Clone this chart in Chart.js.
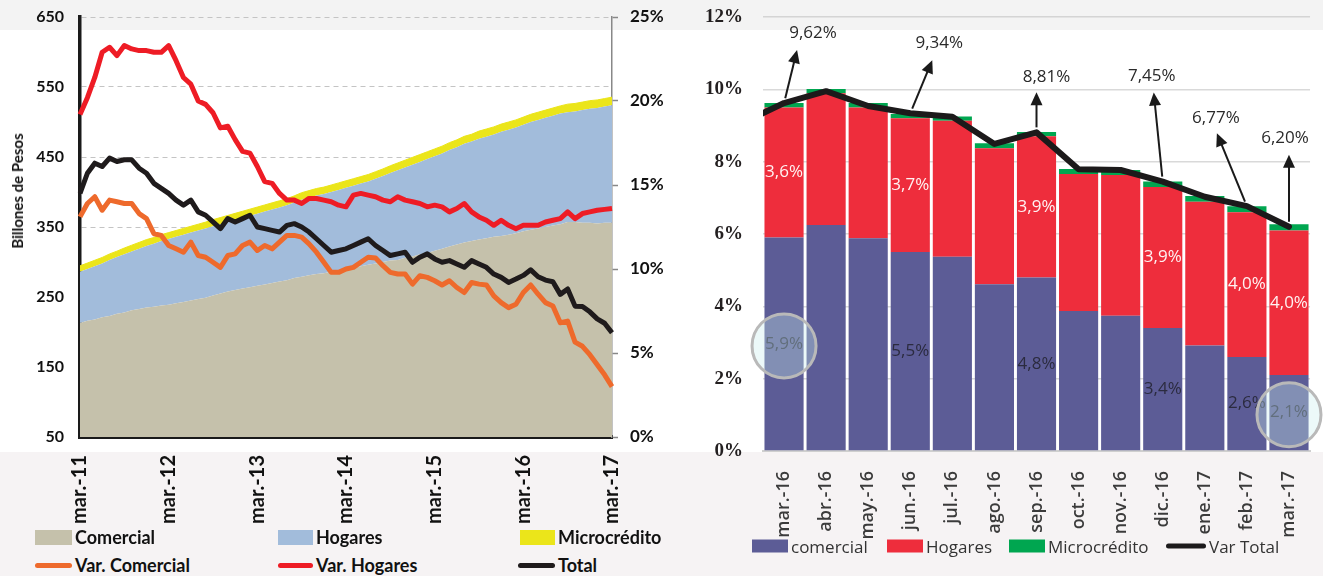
<!DOCTYPE html>
<html>
<head>
<meta charset="utf-8">
<script src="https://cdn.jsdelivr.net/npm/chart.js@4.4.1/dist/chart.umd.min.js"></script>
<style>
  body { margin: 0; width: 1323px; height: 576px; overflow: hidden; background: #fff; position: relative; font-family: Lato, sans-serif; }
  #topband { position: absolute; left: 0; top: 0; width: 1323px; height: 30px; background: #f3f3f3; }
  #botband { position: absolute; left: 0; top: 452px; width: 1323px; height: 124px; background: #f6f3f4; }
  #saldos { position: absolute; left: 0; top: 0; }
  #contrib { position: absolute; left: 690px; top: 0; }
  .ytitle { position: absolute; left: 17px; top: 191px; transform: translate(-50%, -50%) rotate(-90deg); font: bold 15px Lato; white-space: nowrap; color: #111; }
  .leg { position: absolute; display: flex; align-items: center; white-space: nowrap; transform: translateY(-50%); }
  .leg i { display: inline-block; margin-right: 3px; }
  .legL { font: bold 18px Lato; color: #111; }
  .legR { font: 17px "Open Sans"; color: #333; }
</style>
</head>
<body>
<div id="topband"></div>
<div id="botband"></div>
<canvas id="saldos" width="690" height="530"></canvas>
<canvas id="contrib" width="633" height="545"></canvas>
<div class="ytitle">Billones de Pesos</div>
<div id="legends"></div>
<script>
// --- saldos de cartera (billones) y variación anual (%), mar-11 a mar-17 ---
const monthNames = ['ene.', 'feb.', 'mar.', 'abr.', 'may.', 'jun.', 'jul.', 'ago.', 'sep.', 'oct.', 'nov.', 'dic.'];
const firstYear = 11;
const firstMonth = 2;
const nMonths = 73;

const comercial = [
  213, 216, 218, 221, 223, 226, 228, 231, 233, 235,
  236, 238, 239, 241, 243, 245, 247, 249, 252, 255,
  258, 260, 262, 264, 266, 268, 270, 272, 274, 277,
  279, 281, 283, 284, 286, 288, 290, 292, 294, 296,
  298, 300, 302, 303, 306, 308, 311, 313, 316, 319,
  322, 325, 328, 330, 332, 334, 336, 337, 339, 341,
  344, 346, 348, 350, 352, 354, 357, 357, 356, 356, 355, 356, 356
];
const hogares = [
  73, 74, 76, 77, 80, 81, 83, 84, 86, 88,
  90, 92, 94, 95, 96, 97, 98, 99, 99, 99,
  99, 100, 101, 102, 103, 104, 105, 106, 107, 108,
  110, 111, 112, 113, 114, 115, 116, 117, 118, 119,
  121, 123, 125, 128, 129, 131, 132, 134, 135, 136,
  138, 139, 141, 142, 144, 145, 146, 149, 150, 151,
  152, 154, 155, 156, 157, 158, 157, 158, 161, 163, 165, 166, 168
];
const microcredito = [
  8.5, 8.5, 8.5, 8.5, 8.5, 8.5, 9, 9, 9, 9,
  9, 9, 9, 9, 9, 9, 9, 9, 9.5, 9.5,
  9.5, 9.5, 9.5, 9.5, 9.5, 9.5, 9.5, 9.5, 9.5, 9.5,
  10, 10, 10, 10, 10, 10, 10, 10, 10, 10,
  10, 10, 10.5, 10.5, 10.5, 10.5, 10.5, 10.5, 10.5, 10.5,
  10.5, 10.5, 10.5, 10.5, 11, 11, 11, 11, 11, 11,
  11, 11, 11, 11, 11, 11, 11.5, 11.5, 11.5, 11.5, 11.5, 11.5, 11.5
];
const varComercial = [
  13.1, 13.9, 14.3, 13.5, 14.1, 14.0, 13.9, 13.9, 13.3, 13.0,
  12.1, 12.0, 11.4, 11.2, 11.0, 11.6, 10.8, 10.7, 10.4, 10.1,
  10.8, 10.9, 11.4, 11.6, 11.1, 11.4, 11.2, 11.6, 12.0, 12.0,
  11.9, 11.5, 11.0, 10.4, 9.8, 9.8, 10.0, 10.1, 10.4, 10.7,
  10.65, 10.2, 9.8, 9.7, 9.7, 9.1, 9.6, 9.5, 9.3, 9.05,
  9.3, 8.9, 8.6, 9.2, 9.1, 9.05, 8.4, 8.0, 7.7, 7.9,
  8.6, 9.05, 8.5, 8.0, 7.8, 6.8, 6.9, 5.65, 5.4, 4.9, 4.3, 3.7, 3.0
];
const varHogares = [
  19.2, 20.2, 21.4, 22.9, 23.2, 22.7, 23.3, 23.1, 23.0, 23.0,
  22.9, 22.9, 23.3, 22.4, 21.4, 21.0, 20.0, 19.8, 19.3, 18.4,
  18.5, 17.7, 17.0, 16.9, 16.1, 15.2, 15.1, 14.5, 14.1, 14.1,
  13.9, 14.2, 14.2, 14.1, 14.0, 13.8, 13.7, 14.4, 14.5, 14.4,
  14.3, 14.1, 14.0, 14.3, 14.1, 14.0, 13.9, 13.7, 13.8, 13.7,
  13.4, 13.6, 13.9, 13.4, 13.1, 12.9, 12.6, 12.9, 12.6, 12.4,
  12.6, 12.6, 12.6, 12.8, 12.9, 13.0, 13.4, 13.0, 13.3, 13.4, 13.5, 13.55, 13.6
];
const varTotal = [
  14.5, 15.7, 16.3, 16.1, 16.6, 16.4, 16.5, 16.5, 16.0, 15.7,
  15.1, 14.8, 14.5, 14.1, 13.8, 14.1, 13.4, 13.2, 12.8, 12.4,
  13.0, 12.8, 13.0, 13.2, 12.5, 12.4, 12.3, 12.2, 12.6, 12.7,
  12.5, 12.2, 11.8, 11.4, 11.0, 11.1, 11.2, 11.4, 11.6, 11.8,
  11.4, 11.1, 10.8, 10.9, 11.0, 10.4, 10.7, 10.9, 10.6, 10.4,
  10.5, 10.3, 10.1, 10.5, 10.3, 10.1, 9.7, 9.5, 9.2, 9.4,
  9.62, 9.95, 9.54, 9.34, 9.24, 8.49, 8.81, 7.79, 7.77, 7.45, 7.03, 6.77, 6.20
];

// --- contribución al crecimiento (pp), mar-16 a mar-17 ---
const meses = ['mar.-16', 'abr.-16', 'may.-16', 'jun.-16', 'jul.-16', 'ago.-16', 'sep.-16',
               'oct.-16', 'nov.-16', 'dic.-16', 'ene.-17', 'feb.-17', 'mar.-17'];
const contribComercial = [5.9, 6.25, 5.88, 5.5, 5.37, 4.61, 4.8, 3.87, 3.74, 3.4, 2.92, 2.6, 2.1];
const contribHogares = [3.6, 3.64, 3.62, 3.7, 3.76, 3.76, 3.9, 3.79, 3.89, 3.9, 3.97, 4.0, 4.0];
const contribMicro = [0.12, 0.12, 0.12, 0.12, 0.12, 0.14, 0.12, 0.14, 0.14, 0.15, 0.16, 0.17, 0.17];
const varTotalMes = [9.62, 9.95, 9.54, 9.34, 9.24, 8.49, 8.81, 7.79, 7.77, 7.45, 7.03, 6.77, 6.20];
const varTotalPrevio = 9.06; // feb-16, queda fuera del área
const conEtiqueta = [0, 3, 6, 9, 11, 12];
const conFlecha = [0, 3, 6, 9, 11, 12];
const resaltados = [0, 12];

const monthLabels = [];
for (let i = 0; i < nMonths; i++) {
  const m = (firstMonth + i) % 12;
  const y = firstYear + Math.floor((firstMonth + i) / 12);
  monthLabels.push(monthNames[m] + '-' + y);
}

const pct = (v, d) => v.toFixed(d).replace('.', ',') + '%';

// ancho fijo del eje y sin el relleno vertical que agrega Chart.js por las etiquetas
const fixedWidth = w => s => { s.width = w; s.paddingTop = 0; s.paddingBottom = 0; };

// ---------- panel izquierdo ----------
new Chart(document.getElementById('saldos'), {
  type: 'line',
  data: {
    labels: monthLabels,
    datasets: [
      { label: 'Comercial', data: comercial, yAxisID: 'y', stack: 'saldo', fill: 'origin',
        backgroundColor: '#c5c1ab', borderWidth: 0, pointRadius: 0, order: 10 },
      { label: 'Hogares', data: hogares, yAxisID: 'y', stack: 'saldo', fill: '-1',
        backgroundColor: '#a2bcdb', borderWidth: 0, pointRadius: 0, order: 10 },
      { label: 'Microcrédito', data: microcredito, yAxisID: 'y', stack: 'saldo', fill: '-1',
        backgroundColor: '#ebe51a', borderColor: '#ebe51a', borderWidth: 1, pointRadius: 0, order: 10 },
      { label: 'Var. Comercial', data: varComercial, yAxisID: 'y1', fill: false,
        borderColor: '#ee6a2c', borderWidth: 5, pointRadius: 0, borderJoinStyle: 'round', order: 3 },
      { label: 'Var. Hogares', data: varHogares, yAxisID: 'y1', fill: false,
        borderColor: '#ee1c25', borderWidth: 5, pointRadius: 0, borderJoinStyle: 'round', order: 2 },
      { label: 'Total', data: varTotal, yAxisID: 'y1', fill: false,
        borderColor: '#1f1b1c', borderWidth: 5, pointRadius: 0, borderJoinStyle: 'round', order: 1 }
    ]
  },
  options: {
    responsive: false,
    animation: false,
    layout: { padding: { top: 17, left: 0, right: 0, bottom: 0 } },
    plugins: { legend: { display: false }, tooltip: { enabled: false } },
    scales: {
      x: {
        offset: false,
        grid: { display: false },
        border: { display: true, color: '#1a1a1a', width: 4 },
        ticks: {
          autoSkip: false, minRotation: 90, maxRotation: 90, padding: 10,
          color: '#111', font: { family: 'Lato', weight: 'bold', size: 20 },
          callback: (v, i) => (i % 12 === 0 ? monthLabels[i] : '')
        },
        afterFit: s => { s.height = 93; }
      },
      y: {
        stacked: true, min: 50, max: 650,
        grid: { color: '#c4c4c4', lineWidth: 1, drawTicks: false },
        border: { display: true, color: '#1a1a1a', width: 3.5, dash: [5, 4] },
        ticks: { stepSize: 100, padding: 16, color: '#111', font: { family: 'Lato', weight: 'bold', size: 16 } },
        afterFit: fixedWidth(80)
      },
      y1: {
        position: 'right', stacked: false, min: 0, max: 25,
        grid: { drawOnChartArea: false, tickLength: 6, tickColor: '#888', tickWidth: 1.5 },
        border: { display: true, color: '#888', width: 1.5 },
        ticks: { stepSize: 5, padding: 12, color: '#111', font: { family: 'Lato', weight: 'bold', size: 17 },
                 callback: v => v + '%' },
        afterFit: fixedWidth(78)
      }
    }
  }
});

// ---------- panel derecho ----------
const arrowOffsets = {
  0: { hx: 13, hy: -53, tx: 29, ty: -70 },
  3: { hx: 22, hy: -53, tx: 29, ty: -70 },
  6: { hx: 0, hy: -40, tx: 10, ty: -55 },
  9: { hx: -9, hy: -89, tx: -11, ty: -105 },
  11: { hx: -30, hy: -73, tx: -31, ty: -88 },
  12: { hx: 0, hy: -72, tx: -4, ty: -89 }
};

const contribNotes = {
  id: 'contribNotes',
  afterDatasetsDraw(chart) {
    const ctx = chart.ctx;
    const xs = chart.scales.x, ys = chart.scales.y;
    ctx.save();
    ctx.textAlign = 'center';
    ctx.textBaseline = 'middle';
    ctx.font = '17px "Open Sans"';

    // valores dentro de las barras
    const segs = [
      { ds: 0, vals: contribComercial, color: '#2b2b3f' },
      { ds: 1, vals: contribHogares, color: '#fff2f2' }
    ];
    segs.forEach(s => {
      const meta = chart.getDatasetMeta(s.ds);
      conEtiqueta.forEach(i => {
        const el = meta.data[i];
        ctx.fillStyle = s.color;
        ctx.fillText(pct(s.vals[i], 1), el.x, (el.y + el.base) / 2);
      });
    });

    // flechas con la variación total
    ctx.strokeStyle = '#1a1a1a';
    ctx.lineWidth = 2;
    conFlecha.forEach(i => {
      const o = arrowOffsets[i];
      const px = xs.getPixelForValue(i);
      const py = ys.getPixelForValue(varTotalMes[i]);
      const len = Math.hypot(o.hx, o.hy);
      const ux = o.hx / len, uy = o.hy / len;
      const sx = px + ux * 5, sy = py + uy * 5;
      const hx = px + o.hx, hy = py + o.hy;
      ctx.beginPath();
      ctx.moveTo(sx, sy);
      ctx.lineTo(hx - ux * 10, hy - uy * 10);
      ctx.stroke();
      ctx.fillStyle = '#1a1a1a';
      ctx.beginPath();
      ctx.moveTo(hx, hy);
      ctx.lineTo(hx - ux * 13 - uy * 6, hy - uy * 13 + ux * 6);
      ctx.lineTo(hx - ux * 13 + uy * 6, hy - uy * 13 - ux * 6);
      ctx.closePath();
      ctx.fill();
      ctx.fillStyle = '#2a2a2a';
      ctx.fillText(pct(varTotalMes[i], 2), px + o.tx, py + o.ty);
    });

    // círculos de resaltado
    const metaC = chart.getDatasetMeta(0);
    resaltados.forEach(i => {
      const el = metaC.data[i];
      const cy = (el.y + el.base) / 2 + 2;
      ctx.beginPath();
      ctx.arc(el.x, cy, 32, 0, Math.PI * 2);
      ctx.fillStyle = 'rgba(200, 238, 238, 0.35)';
      ctx.fill();
      ctx.lineWidth = 3;
      ctx.strokeStyle = '#b9b9b9';
      ctx.stroke();
    });
    ctx.restore();
  }
};

const totalPoints = [{ x: -1, y: varTotalPrevio }].concat(varTotalMes.map((v, i) => ({ x: i, y: v })));
const barStyle = { stack: 's', order: 2, grouped: false, barPercentage: 0.93, categoryPercentage: 1.0, borderWidth: 0 };

new Chart(document.getElementById('contrib'), {
  type: 'bar',
  data: {
    labels: meses,
    datasets: [
      Object.assign({ label: 'comercial', data: contribComercial, backgroundColor: '#5c5c96' }, barStyle),
      Object.assign({ label: 'Hogares', data: contribHogares, backgroundColor: '#ee2d3c' }, barStyle),
      Object.assign({ label: 'Microcrédito', data: contribMicro, backgroundColor: '#00a650' }, barStyle),
      { type: 'line', label: 'Var Total', data: totalPoints, xAxisID: 'x2',
        borderColor: '#1c1a1b', borderWidth: 6, pointRadius: 0, borderJoinStyle: 'round',
        borderCapStyle: 'round', fill: false, order: 1 }
    ]
  },
  options: {
    responsive: false,
    animation: false,
    layout: { padding: { top: 17, left: 0, right: 11, bottom: 0 } },
    plugins: { legend: { display: false }, tooltip: { enabled: false } },
    scales: {
      x: {
        stacked: true,
        grid: { display: false },
        border: { display: true, color: '#cfcfcf', width: 2 },
        ticks: { autoSkip: false, minRotation: 90, maxRotation: 90, padding: 12,
                 color: '#3b3b3b', font: { family: 'Open Sans', weight: '600', size: 18 } },
        afterFit: s => { s.height = 94; }
      },
      x2: { type: 'linear', display: false, offset: false, min: -0.5, max: 12.5 },
      y: {
        stacked: true, min: 0, max: 12, z: 1,
        grid: { color: 'rgba(185,185,185,0.55)', lineWidth: 1.5, drawTicks: false },
        border: { display: false },
        ticks: { stepSize: 2, padding: 20, color: '#231f20',
                 font: { family: 'Liberation Serif', weight: 'bold', size: 19 },
                 callback: v => v + '%' },
        afterFit: fixedWidth(73)
      }
    }
  },
  plugins: [contribNotes]
});

// ---------- leyendas ----------
const legendItems = [
  { text: 'Comercial', kind: 'box', color: '#c5c1ab', x: 35, y: 537, w: 37, cls: 'legL' },
  { text: 'Hogares', kind: 'box', color: '#a2bcdb', x: 278, y: 537, w: 35, cls: 'legL' },
  { text: 'Microcrédito', kind: 'box', color: '#ebe51a', x: 520, y: 537, w: 35, cls: 'legL' },
  { text: 'Var. Comercial', kind: 'line', color: '#ee6a2c', x: 35, y: 565, w: 37, cls: 'legL' },
  { text: 'Var. Hogares', kind: 'line', color: '#ee1c25', x: 278, y: 565, w: 35, cls: 'legL' },
  { text: 'Total', kind: 'line', color: '#1f1b1c', x: 518, y: 565, w: 37, cls: 'legL' },
  { text: 'comercial', kind: 'box', color: '#5c5c96', x: 752, y: 546, w: 36, cls: 'legR' },
  { text: 'Hogares', kind: 'box', color: '#ee2d3c', x: 887, y: 546, w: 36, cls: 'legR' },
  { text: 'Microcrédito', kind: 'box', color: '#00a650', x: 1009, y: 546, w: 36, cls: 'legR' },
  { text: 'Var Total', kind: 'line', color: '#1c1a1b', x: 1166, y: 546, w: 40, cls: 'legR' }
];
const legHost = document.getElementById('legends');
legendItems.forEach(it => {
  const d = document.createElement('div');
  d.className = 'leg ' + it.cls;
  d.style.left = it.x + 'px';
  d.style.top = it.y + 'px';
  const sw = document.createElement('i');
  sw.style.width = it.w + 'px';
  sw.style.background = it.color;
  if (it.kind === 'line') { sw.style.height = '5px'; sw.style.borderRadius = '3px'; }
  else { sw.style.height = it.cls === 'legL' ? '15px' : '13px'; }
  d.appendChild(sw);
  d.appendChild(document.createTextNode(it.text));
  legHost.appendChild(d);
});
</script>
</body>
</html>
